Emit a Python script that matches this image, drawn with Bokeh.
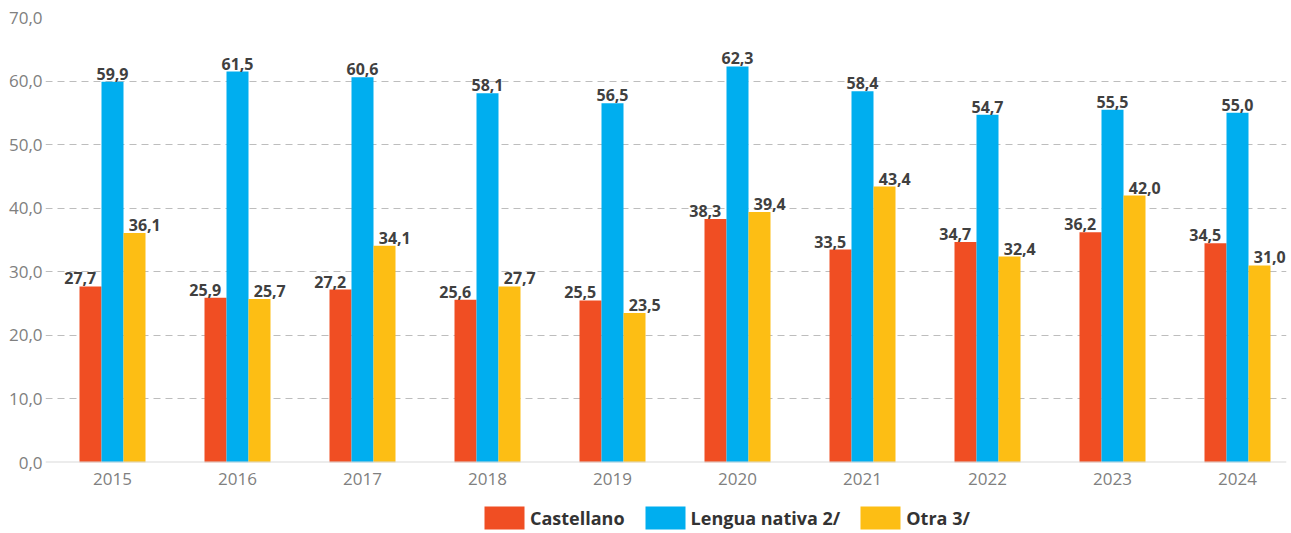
from bokeh.plotting import figure
from bokeh.models import (ColumnDataSource, FixedTicker, CustomJSTickFormatter, Span,
                          Legend, LegendItem, Range1d)
from bokeh.layouts import column
from bokeh.transform import dodge
from bokeh.core.properties import value
from bokeh.embed import file_html
from bokeh.resources import INLINE

years = [2015, 2016, 2017, 2018, 2019, 2020, 2021, 2022, 2023, 2024]
castellano = [27.7, 25.9, 27.2, 25.6, 25.5, 38.3, 33.5, 34.7, 36.2, 34.5]
nativa = [59.9, 61.5, 60.6, 58.1, 56.5, 62.3, 58.4, 54.7, 55.5, 55.0]
otra = [36.1, 25.7, 34.1, 27.7, 23.5, 39.4, 43.4, 32.4, 42.0, 31.0]
series_names = ["Castellano", "Lengua nativa 2/", "Otra 3/"]
colors = ["#F04E23", "#00AEEF", "#FDBE14"]
y_ticks = [0, 10, 20, 30, 40, 50, 60, 70]

def fmt(v):
    return f"{v:.1f}".replace(".", ",")

src = ColumnDataSource(dict(
    x=years, c=castellano, n=nativa, o=otra,
    cl=[fmt(v) for v in castellano], nl=[fmt(v) for v in nativa], ol=[fmt(v) for v in otra],
))

FONT = "Open Sans"
W = 1288
p = figure(width=W, height=497, output_backend="svg", toolbar_location=None,
           x_range=Range1d(2014.464, 2024.392), y_range=Range1d(0, 70),
           min_border_left=45, min_border_right=2, min_border_top=17, min_border_bottom=35)
p.outline_line_color = None
p.background_fill_color = None
p.border_fill_color = None

bw = 0.176
for key, off, col in [("c", -bw, colors[0]), ("n", 0, colors[1]), ("o", bw, colors[2])]:
    p.vbar(x=dodge("x", off, range=p.x_range), top=key, width=bw, source=src,
           fill_color=col, line_color=None)

loff = 0.258
for key, off in [("cl", -loff), ("nl", 0), ("ol", loff)]:
    topk = key[0]
    p.text(x=dodge("x", off, range=p.x_range), y=topk, text=key, source=src,
           text_font=value(FONT), text_font_style="bold", text_font_size="16px",
           text_color="#404040", text_align="center", text_baseline="alphabetic",
           y_offset=-8)

p.add_layout(Span(location=0, dimension="width", line_color="#d9d9d9", line_width=2))

# axes
p.xaxis.ticker = FixedTicker(ticks=years)
p.xaxis.formatter = CustomJSTickFormatter(code="return tick.toFixed(0);")
p.yaxis.ticker = FixedTicker(ticks=y_ticks)
p.yaxis.formatter = CustomJSTickFormatter(code="return tick.toFixed(1).replace('.', ',');")
for ax in (p.xaxis, p.yaxis):
    ax.axis_line_color = None
    ax.major_tick_line_color = None
    ax.minor_tick_line_color = None
    ax.major_tick_in = 0
    ax.major_tick_out = 0
    ax.major_label_text_font = FONT
    ax.major_label_text_font_size = "17px"
    ax.major_label_text_color = "#808080"
p.yaxis.major_label_standoff = 3
p.xaxis.major_label_standoff = 10

p.xgrid.grid_line_color = None
p.ygrid.grid_line_color = "#bdbdbd"
p.ygrid.grid_line_dash = "7 5"
p.ygrid.grid_line_width = 1

# legend strip: separate small figure holding only the legend
lf = figure(width=W, height=35, output_backend="svg", toolbar_location=None,
            x_range=Range1d(2014.464, 2024.392), y_range=Range1d(0, 70),
            min_border=0, x_axis_location=None, y_axis_location=None)
lf.outline_line_color = None
lf.grid.grid_line_color = None
lf.background_fill_color = None
lf.border_fill_color = None
items = []
for key, name, col in zip(["c", "n", "o"], series_names, colors):
    r = lf.vbar(x="x", top=key, width=bw, source=src, fill_color=col, line_color=None,
                visible=False)
    items.append(LegendItem(label=name, renderers=[r]))
legend = Legend(items=items, orientation="horizontal", location=(434, 0),
                glyph_width=50, glyph_height=29, label_standoff=1, spacing=15,
                label_text_font=FONT, label_text_font_style="bold",
                label_text_font_size="18px", label_text_color="#333333",
                border_line_color=None, background_fill_color=None,
                inactive_fill_alpha=0.0, padding=0, margin=0)
lf.add_layout(legend)

layout = column(p, lf, spacing=0)
open("out.html", "w").write(file_html(layout, INLINE))
